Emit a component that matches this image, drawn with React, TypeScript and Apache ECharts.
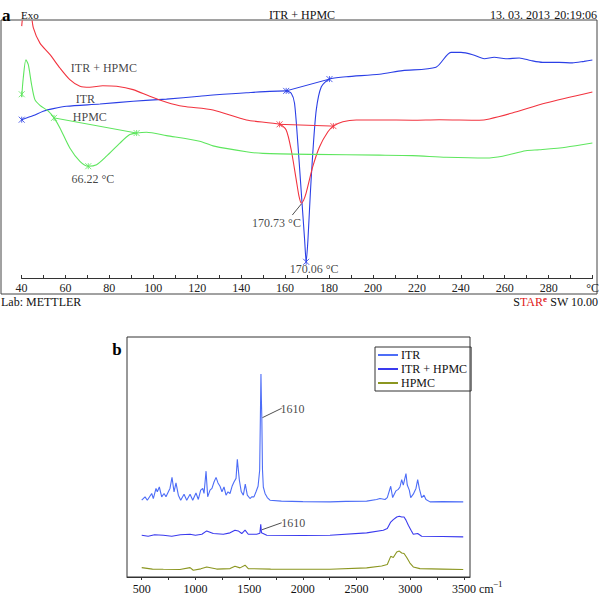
import React, { useEffect, useRef } from 'react';
import * as echarts from 'echarts';

// ---------- Panel a : DSC thermograms (temperature °C, heat flow arb.) ----------
const dscTempTicks = [40, 60, 80, 100, 120, 140, 160, 180, 200, 220, 240, 260, 280];

const dscItr: [number, number][] = [
  [40.1, 61.6], [45.4, 63.2], [49.9, 64.9], [54.5, 65.9], [60.5, 66.8], [75.7, 67.7], [90.8, 68.8],
  [106.0, 69.6], [121.1, 70.7], [127.2, 71.2], [142.4, 72.1], [160.5, 72.8], [162.8, 71.9],
  [164.3, 68.0], [165.8, 52.4], [167.4, 33.0], [168.9, 14.8], [169.6, 6.3], [170.4, 14.8],
  [171.5, 33.0], [172.6, 48.5], [174.2, 65.4], [176.5, 74.4], [180.2, 77.4], [187.8, 78.3],
  [203.0, 79.3], [213.5, 80.7], [228.7, 82.0], [235.5, 87.8], [240.1, 87.8], [245.4, 86.9],
  [250.7, 85.3], [255.2, 85.9], [260.5, 85.3], [266.6, 85.6], [271.9, 84.6], [277.2, 83.9],
  [284.8, 83.9], [290.8, 83.7], [296.1, 84.3], [299.9, 84.8]
];

const dscItrHpmc: [number, number][] = [
  [40.1, 98], [41.0, 104], [43.0, 107], [44.3, 103.5], [45.4, 97.3], [48.4, 91.4], [53.0, 86.9],
  [57.5, 81.7], [62.0, 77.2], [66.6, 74.6], [71.1, 74.2], [77.0, 74.8], [83.3, 74.6], [90.8, 73.3],
  [98.4, 70.7], [106.0, 68.4], [113.5, 66.8], [127.2, 65.4], [142.4, 61.5], [157.5, 59.8],
  [160.5, 57.6], [162.8, 49.8], [165.1, 38.1], [166.3, 32.0], [167.4, 29.1], [168.4, 30.2],
  [169.6, 33.1], [172.6, 43.3], [175.7, 51.1], [179.5, 56.9], [182.0, 59.1], [186.3, 60.8],
  [192.4, 61.5], [203.0, 61.5], [218.0, 61.4], [230.2, 61.6], [248.4, 61.4], [253.0, 61.9],
  [263.4, 64.2], [278.7, 68.1], [299.9, 72.4]
];

const dscHpmc: [number, number][] = [
  [40.1, 70.4], [40.8, 77.8], [42.0, 84.9], [43.1, 83.0], [44.6, 75.2], [46.1, 69.4], [48.4, 67.2],
  [52.2, 64.9], [54.8, 62.3], [57.5, 58.4], [62.0, 50.6], [66.6, 45.4], [70.4, 43.5], [74.2, 44.1],
  [78.7, 47.4], [84.8, 52.5], [89.3, 55.8], [92.4, 56.4], [96.9, 56.7], [106.0, 55.4], [121.1, 53.2],
  [127.2, 51.4], [142.4, 49.1], [149.9, 48.5], [172.6, 48.1], [203.0, 47.8], [218.0, 47.6],
  [233.3, 47.0], [251.5, 46.7], [259.0, 47.4], [269.6, 49.5], [275.7, 49.9], [287.8, 50.9],
  [299.9, 52.5]
];

// integration limits (baseline end points) and peak markers
const itrLimits: [number, number][] = [[160.5, 72.8], [180.2, 77.4]];
const itrHpmcLimits: [number, number][] = [[157.5, 59.8], [182.0, 59.1]];
const hpmcLimits: [number, number][] = [[54.8, 62.3], [92.4, 56.4]];
const itrMarks: [number, number][] = [[40.1, 61.6], [160.5, 72.8], [180.2, 77.4], [169.6, 6.3]];
const itrHpmcMarks: [number, number][] = [[157.5, 59.8], [182.0, 59.1]];
const hpmcMarks: [number, number][] = [[40.1, 71.5], [54.8, 62.3], [92.4, 56.4], [70.4, 43.5]];

const dscLabels = [
  { name: 'ITR + HPMC', value: [77.5, 81.7] },
  { name: 'ITR', value: [69.1, 69.6] },
  { name: 'HPMC', value: [71.1, 62.6] },
  { name: '66.22 °C', value: [72.5, 38.5] },
  { name: '170.73 °C', value: [156.1, 21.5] },
  { name: '170.06 °C', value: [173.2, 3.4] }
];
const dscLeader: [number, number][] = [[167.4, 28.8], [163.3, 24.5]];

// ---------- Panel b : Raman spectra (cm-1, intensity arb., offset) ----------
const ramanLabelTicks = [500, 1000, 1500, 2000, 2500, 3000, 3500];
const ramanMinorTicks = [500, 750, 1000, 1250, 1500, 1750, 2000, 2250, 2500, 2750, 3000, 3250, 3500];

const ramanItr: [number, number][] = [
  [500, 32.0], [531, 33.4], [552, 32.0], [593, 34.8], [608, 32.7], [633, 36.9], [645, 35.5], [664, 37.5],
  [686, 33.4], [708, 34.8], [726, 33.4], [748, 35.5], [763, 36.9], [782, 41.5], [801, 35.5], [819, 39.2],
  [841, 34.1], [863, 32.0], [894, 34.5], [919, 32.0], [950, 34.5], [975, 32.0], [1005, 35.0], [1027, 32.3],
  [1049, 36.2], [1068, 36.9], [1080, 34.8], [1099, 44.1], [1114, 33.4], [1136, 36.2], [1154, 36.9],
  [1173, 39.6], [1192, 41.5], [1210, 39.2], [1229, 37.8], [1247, 35.5], [1266, 37.5], [1285, 34.1],
  [1303, 35.5], [1322, 34.8], [1341, 37.8], [1359, 39.6], [1378, 41.1], [1390, 49.0], [1409, 40.3],
  [1427, 35.5], [1446, 34.1], [1464, 38.7], [1483, 34.1], [1508, 32.7], [1524, 33.4], [1545, 33.4],
  [1564, 35.5], [1583, 37.8], [1598, 44.5], [1610, 84.6], [1614, 74], [1618, 66.8], [1624, 45],
  [1632, 37.5], [1648, 34.8], [1669, 33.1], [1694, 32.0], [1800, 31.6], [2000, 31.4], [2253, 31.3],
  [2400, 31.5], [2594, 31.6], [2687, 32.3], [2718, 32.7], [2765, 32.3], [2786, 33.1], [2818, 37.8],
  [2836, 33.1], [2867, 35.9], [2888, 36.5], [2904, 37.5], [2920, 40.6], [2935, 38.3], [2960, 43.1],
  [2972, 38.3], [2991, 36.2], [3004, 33.1], [3028, 34.5], [3053, 36.9], [3069, 40.6], [3084, 36.9],
  [3106, 33.1], [3128, 34.1], [3146, 32.3], [3184, 31.3], [3300, 31.4], [3493, 31.3]
];

const ramanItrHpmc: [number, number][] = [
  [500, 17.4], [560, 17.0], [620, 17.6], [701, 17.4], [780, 17.0], [860, 17.6], [950, 17.8], [1000, 17.4],
  [1060, 17.8], [1105, 19.2], [1166, 18.1], [1260, 17.8], [1322, 18.4], [1368, 19.5], [1399, 19.2],
  [1431, 18.1], [1462, 19.5], [1492, 17.8], [1570, 17.8], [1600, 18.2], [1608, 22.0], [1615, 18.4],
  [1664, 17.4], [2000, 17.3], [2253, 17.4], [2594, 18.4], [2749, 19.5], [2786, 20.2], [2818, 22.9],
  [2842, 23.9], [2874, 25.0], [2898, 25.3], [2920, 25.0], [2942, 25.0], [2960, 23.7], [2982, 21.6],
  [3007, 19.5], [3028, 17.8], [3069, 18.1], [3106, 17.0], [3300, 16.9], [3493, 16.7]
];

const ramanHpmc: [number, number][] = [
  [500, 3.9], [600, 3.3], [701, 3.2], [856, 3.1], [950, 3.9], [980, 2.8], [1050, 3.4], [1105, 4.2],
  [1198, 3.3], [1322, 3.5], [1368, 4.5], [1415, 3.8], [1462, 4.9], [1492, 3.5], [1700, 3.3], [1973, 3.2],
  [2253, 3.2], [2594, 3.8], [2734, 4.6], [2786, 5.2], [2818, 8.6], [2842, 8.1], [2874, 10.4], [2898, 10.8],
  [2920, 10.0], [2942, 9.8], [2967, 8.1], [2997, 5.8], [3028, 4.2], [3090, 3.5], [3300, 3.3], [3493, 3.1]
];

const ramanLabels = [
  { name: '1610', value: [1904, 69.8] },
  { name: '1610', value: [1911, 22.3] }
];
const ramanLeader1: [number, number][] = [[1624, 66.4], [1803, 70.3]];
const ramanLeader2: [number, number][] = [[1620, 19.7], [1803, 22.6]];

const SERIF = '"Liberation Serif", "Times New Roman", serif';
const C_RED = '#f2333f';
const C_BLUE = '#2b3fe6';
const C_GREEN = '#5ee65e';
const C_R_ITR = '#4d6df7';
const C_R_MIX = '#3a3aee';
const C_R_HPMC = '#8b9620';

const CROSS = 'path://M0 0L10 10M10 0L0 10M5 0L5 10';

function leader(pts: [number, number][]) {
  return [[{ coord: pts[0] }, { coord: pts[1] }]];
}

export default function App() {
  const ref = useRef<HTMLDivElement>(null);
  useEffect(() => {
    if (!ref.current) return;
    const chart = echarts.init(ref.current, null, { renderer: 'svg' });
    const dscLine = (name: string, data: [number, number][], color: string) => ({
      name, type: 'line', xAxisIndex: 0, yAxisIndex: 0, data, showSymbol: false, smooth: 0.25,
      lineStyle: { color, width: 1.1 }, itemStyle: { color }, silent: true
    });
    const baseLine = (data: [number, number][], color: string) => ({
      type: 'line', xAxisIndex: 0, yAxisIndex: 0, data, showSymbol: false,
      lineStyle: { color, width: 1 }, silent: true
    });
    const marks = (data: [number, number][], color: string) => ({
      type: 'scatter', xAxisIndex: 0, yAxisIndex: 0, data, symbol: CROSS, symbolSize: 6,
      itemStyle: { color: 'rgba(0,0,0,0)', borderColor: color, borderWidth: 1 }, silent: true
    });
    const ramanLine = (name: string, data: [number, number][], color: string) => ({
      name, type: 'line', xAxisIndex: 1, yAxisIndex: 1, data, showSymbol: false,
      lineStyle: { color, width: 1.1 }, itemStyle: { color }, silent: true
    });
    const labelSeries = (data: any[], xi: number, extra: any) => ({
      type: 'scatter', xAxisIndex: xi, yAxisIndex: xi, data, symbolSize: 1,
      itemStyle: { color: 'rgba(0,0,0,0)' }, silent: true,
      label: { show: true, position: 'inside', formatter: '{b}', color: '#111', fontFamily: SERIF, fontSize: 12 },
      markLine: extra
    });
    const leaderStyle = (lines: any[]) => ({
      silent: true, symbol: ['none', 'none'], label: { show: false },
      lineStyle: { color: '#222', width: 0.8, type: 'solid' }, data: lines
    });

    chart.setOption({
      animation: false,
      backgroundColor: '#fff',
      textStyle: { fontFamily: SERIF },
      grid: [
        { left: 21.5, right: 8.5, top: 21, height: 257 },
        { left: 127, top: 337, width: 343, height: 240, show: true, borderColor: '#333', borderWidth: 1 }
      ],
      xAxis: [
        {
          type: 'value', gridIndex: 0, min: 40, max: 300, interval: 20,
          axisLine: { show: true, lineStyle: { color: '#333', width: 1 } },
          axisTick: { show: true, inside: true, length: 3, lineStyle: { color: '#333' } },
          minorTick: { show: true, splitNumber: 2, length: 3, lineStyle: { color: '#333' } },
          splitLine: { show: false },
          axisLabel: {
            color: '#222', fontFamily: SERIF, fontSize: 12, margin: 4,
            formatter: (v: number) => (v === 300 ? '°C' : dscTempTicks.includes(v) ? String(v) : '')
          }
        },
        {
          type: 'value', gridIndex: 1, min: 363, max: 3556,
          axisLine: { show: true, lineStyle: { color: '#333', width: 1 } },
          axisTick: { show: true, inside: false, length: 3, customValues: ramanMinorTicks, lineStyle: { color: '#333' } },
          splitLine: { show: false },
          axisLabel: {
            color: '#111', fontFamily: SERIF, fontSize: 12, margin: 6, customValues: ramanLabelTicks,
            formatter: (v: number) => String(v)
          }
        }
      ],
      yAxis: [
        { type: 'value', gridIndex: 0, min: 0, max: 100, show: false },
        { type: 'value', gridIndex: 1, min: 0, max: 100, show: false }
      ],
      legend: {
        data: ['ITR', 'ITR + HPMC', 'HPMC'],
        orient: 'vertical', left: 375, top: 347,
        borderColor: '#333', borderWidth: 1, padding: [2, 4, 2, 3],
        itemWidth: 20, itemHeight: 2, itemGap: 2, icon: 'rect',
        textStyle: { fontFamily: SERIF, fontSize: 12, color: '#111', padding: [0, 0, 0, -2] },
        selectedMode: false
      },
      series: [
        dscLine('DSC ITR', dscItr, C_BLUE),
        dscLine('DSC ITR + HPMC', dscItrHpmc, C_RED),
        dscLine('DSC HPMC', dscHpmc, C_GREEN),
        baseLine(itrLimits, C_BLUE),
        baseLine(itrHpmcLimits, C_RED),
        baseLine(hpmcLimits, C_GREEN),
        marks(itrMarks, C_BLUE),
        marks(itrHpmcMarks, C_RED),
        marks(hpmcMarks, C_GREEN),
        labelSeries(dscLabels, 0, leaderStyle(leader(dscLeader))),
        ramanLine('ITR', ramanItr, C_R_ITR),
        ramanLine('ITR + HPMC', ramanItrHpmc, C_R_MIX),
        ramanLine('HPMC', ramanHpmc, C_R_HPMC),
        labelSeries(ramanLabels, 1, leaderStyle([...leader(ramanLeader1), ...leader(ramanLeader2)]))
      ],
      graphic: [
        { type: 'rect', shape: { x: 1, y: 20, width: 596, height: 274 }, style: { fill: 'none', stroke: '#444', lineWidth: 1 }, silent: true },
        { type: 'text', x: 2, y: 15, style: { text: 'a', font: 'bold 17px ' + SERIF, fill: '#000', textVerticalAlign: 'middle' } },
        { type: 'text', x: 21, y: 15, style: { text: 'Exo', font: '11px ' + SERIF, fill: '#111', textVerticalAlign: 'middle' } },
        { type: 'text', x: 302, y: 15, style: { text: 'ITR + HPMC', font: '12px ' + SERIF, fill: '#111', textAlign: 'center', textVerticalAlign: 'middle' } },
        { type: 'text', x: 490, y: 15, style: { text: '13. 03. 2013', font: '12px ' + SERIF, fill: '#111', textVerticalAlign: 'middle' } },
        { type: 'text', x: 597, y: 15, style: { text: '20:19:06', font: '12px ' + SERIF, fill: '#111', textAlign: 'right', textVerticalAlign: 'middle' } },
        { type: 'text', x: 1, y: 302, style: { text: 'Lab: METTLER', font: '12px ' + SERIF, fill: '#111', textVerticalAlign: 'middle' } },
        {
          type: 'text', x: 598, y: 302,
          style: {
            text: '{k|S}{r|TAR}{e|e}{k| SW 10.00}', textAlign: 'right', textVerticalAlign: 'middle',
            rich: {
              k: { font: '12px ' + SERIF, fill: '#111' },
              r: { font: '12px ' + SERIF, fill: '#e02020' },
              e: { font: 'bold 9px ' + SERIF, fill: '#e02020', verticalAlign: 'top', padding: [0, 0, 6, 0] }
            }
          }
        },
        { type: 'text', x: 117, y: 349, style: { text: 'b', font: 'bold 17px ' + SERIF, fill: '#000', textAlign: 'center', textVerticalAlign: 'middle' } },
        { type: 'text', x: 479, y: 589, style: { text: 'cm', font: '12px ' + SERIF, fill: '#111', textVerticalAlign: 'middle' } },
        { type: 'text', x: 493, y: 584, style: { text: '−1', font: '9px ' + SERIF, fill: '#111', textVerticalAlign: 'middle' } }
      ]
    });
    return () => chart.dispose();
  }, []);
  return <div ref={ref} style={{ position: 'absolute', left: 0, top: 0, width: 602, height: 598, background: '#fff' }} />;
}
